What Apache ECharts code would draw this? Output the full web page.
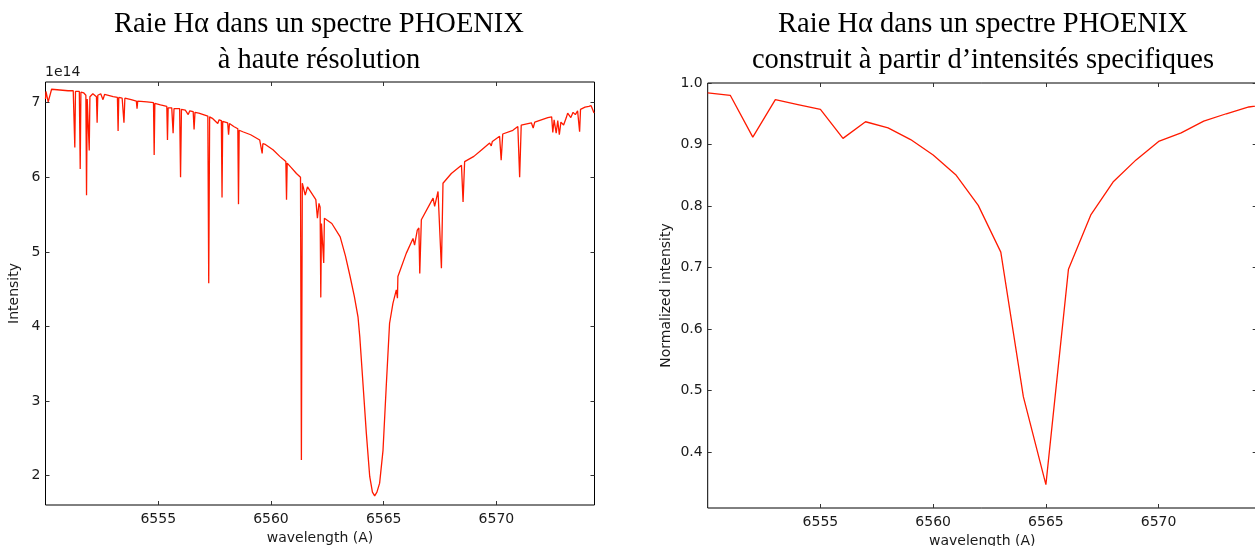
<!DOCTYPE html>
<html>
<head>
<meta charset="utf-8">
<script src="https://cdn.jsdelivr.net/npm/echarts@6/dist/echarts.min.js"></script>
<style>
  html, body { margin: 0; padding: 0; background: #fff; }
  #chart { width: 1255px; height: 546px; }
</style>
</head>
<body>
<div id="chart"></div>
<script>
// high resolution spectrum: [wavelength (A), intensity / 1e14]
const hiresPoints = [
  [6550.00, 7.05], [6550.02, 7.15], [6550.12, 7.01], [6550.27, 7.18], [6550.34, 7.18], [6550.64, 7.17], [6551.00, 7.16], [6551.23, 7.16],
  [6551.27, 7.15], [6551.30, 6.40], [6551.33, 7.15],
  [6551.50, 7.15], [6551.54, 6.11], [6551.57, 7.14],
  [6551.70, 7.13], [6551.79, 7.10], [6551.82, 5.76], [6551.85, 7.05],
  [6551.91, 7.06], [6551.94, 6.36], [6551.97, 7.08],
  [6552.10, 7.12], [6552.26, 7.08], [6552.29, 6.73], [6552.32, 7.10],
  [6552.45, 7.12], [6552.55, 7.04], [6552.62, 7.11],
  [6553.00, 7.08], [6553.19, 7.07], [6553.22, 6.62], [6553.25, 7.07],
  [6553.40, 7.06], [6553.48, 6.73], [6553.52, 7.06],
  [6553.80, 7.04], [6554.03, 7.02], [6554.06, 6.92], [6554.09, 7.02],
  [6554.50, 7.01], [6554.79, 7.00], [6554.82, 6.30], [6554.85, 6.99],
  [6555.10, 6.97], [6555.38, 6.95], [6555.41, 6.50], [6555.44, 6.93],
  [6555.60, 6.93], [6555.66, 6.59], [6555.70, 6.92],
  [6555.95, 6.92], [6555.99, 6.00], [6556.03, 6.91],
  [6556.20, 6.90], [6556.33, 6.84], [6556.40, 6.89],
  [6556.55, 6.88], [6556.59, 6.64], [6556.63, 6.87],
  [6556.80, 6.86], [6557.20, 6.82], [6557.24, 4.58], [6557.28, 6.81],
  [6557.40, 6.79], [6557.64, 6.72], [6557.70, 6.77],
  [6557.80, 6.76], [6557.83, 5.73], [6557.86, 6.75],
  [6558.08, 6.73], [6558.12, 6.57], [6558.16, 6.72],
  [6558.35, 6.68], [6558.53, 6.65], [6558.56, 5.64], [6558.59, 6.63],
  [6558.75, 6.61], [6559.10, 6.57], [6559.50, 6.50], [6559.58, 6.48], [6559.61, 6.32], [6559.64, 6.45],
  [6559.75, 6.44], [6560.09, 6.37], [6560.39, 6.28], [6560.66, 6.21], [6560.69, 5.70], [6560.72, 6.19],
  [6560.90, 6.13], [6561.13, 6.05], [6561.31, 6.00], [6561.35, 2.21], [6561.39, 5.92],
  [6561.43, 5.94], [6561.52, 5.76], [6561.62, 5.87], [6561.99, 5.70], [6562.06, 5.45], [6562.13, 5.65],
  [6562.18, 5.60], [6562.21, 4.39], [6562.24, 5.38], [6562.30, 5.40], [6562.34, 4.85], [6562.37, 5.45],
  [6562.41, 5.47], [6562.70, 5.38], [6563.07, 5.20], [6563.30, 4.95], [6563.51, 4.67], [6563.70, 4.40], [6563.86, 4.13], [6563.94, 3.86],
  [6564.08, 3.24], [6564.23, 2.57], [6564.38, 1.99], [6564.50, 1.78], [6564.60, 1.73], [6564.70, 1.78], [6564.82, 1.90], [6564.97, 2.34],
  [6565.12, 3.24], [6565.26, 4.04], [6565.41, 4.31], [6565.56, 4.49], [6565.61, 4.38], [6565.63, 4.67], [6566.00, 4.98], [6566.30, 5.18],
  [6566.37, 5.09], [6566.49, 5.29], [6566.56, 5.32], [6566.60, 4.71], [6566.67, 5.43], [6567.19, 5.72], [6567.26, 5.61], [6567.41, 5.81],
  [6567.49, 5.83], [6567.56, 4.78], [6567.63, 5.92], [6568.00, 6.05], [6568.45, 6.16], [6568.52, 5.67], [6568.59, 6.21], [6569.00, 6.28],
  [6569.35, 6.37], [6569.70, 6.46], [6569.77, 6.42], [6569.82, 6.48], [6570.14, 6.55], [6570.21, 6.23], [6570.28, 6.58],
  [6570.73, 6.63], [6570.95, 6.68], [6571.03, 6.00], [6571.10, 6.70],
  [6571.55, 6.73], [6571.63, 6.66], [6571.70, 6.74], [6572.28, 6.80], [6572.45, 6.81], [6572.50, 6.60], [6572.56, 6.77],
  [6572.65, 6.59], [6572.72, 6.76], [6572.79, 6.57], [6572.86, 6.74], [6572.98, 6.70], [6573.10, 6.80], [6573.16, 6.86],
  [6573.30, 6.80], [6573.40, 6.87], [6573.50, 6.84], [6573.60, 6.89], [6573.66, 6.90], [6573.69, 6.61], [6573.73, 6.91],
  [6573.93, 6.94], [6574.10, 6.95], [6574.20, 6.96], [6574.33, 6.86]
];

// spectrum built from specific intensities (1 A steps)
const lowresWavelength = [6550, 6551, 6552, 6553, 6554, 6555, 6556, 6557, 6558, 6559, 6560, 6561, 6562,
  6563, 6564, 6565, 6566, 6567, 6568, 6569, 6570, 6571, 6572, 6573, 6574, 6575];
const lowresIntensity = [0.984, 0.980, 0.912, 0.973, 0.965, 0.957, 0.910, 0.937, 0.927, 0.908, 0.883, 0.851, 0.801,
  0.725, 0.490, 0.347, 0.697, 0.786, 0.840, 0.875, 0.905, 0.919, 0.938, 0.950, 0.961, 0.966];

const xTicks = [6555, 6560, 6565, 6570];
const leftYTicks = [2, 3, 4, 5, 6, 7];
const rightYTicks = [0.4, 0.5, 0.6, 0.7, 0.8, 0.9, 1.0];

const titles = [
  'Raie H\u03b1 dans un spectre PHOENIX\n\u00e0 haute r\u00e9solution',
  'Raie H\u03b1 dans un spectre PHOENIX\nconstruit \u00e0 partir d\u2019intensit\u00e9s specifiques'
];

const X_MIN = 6550, X_MAX = 6574.35;
const SANS = 'DejaVu Sans';
const INK = '#1a1a1a';
const RED = '#ff1a00';

function xAxisFor(gridIndex, position, gap) {
  const bottom = position === 'bottom';
  return {
    gridIndex, type: 'value', position, min: X_MIN, max: X_MAX,
    name: bottom ? 'wavelength (A)' : '',
    nameLocation: 'middle', nameGap: gap,
    nameTextStyle: { fontFamily: SANS, fontSize: 14, color: INK },
    axisLine: { show: false },
    splitLine: { show: false },
    axisTick: { show: true, inside: true, length: 4, customValues: xTicks, lineStyle: { color: '#333' } },
    axisLabel: { show: bottom, customValues: xTicks, margin: 7, fontFamily: SANS, fontSize: 14, color: INK,
      formatter: (v) => String(v) },
  };
}

function yAxisFor(gridIndex, position, min, max, ticks, name, gap, fmt) {
  const left = position === 'left';
  return {
    gridIndex, type: 'value', position, min, max,
    name: left ? name : '',
    nameLocation: 'middle', nameGap: gap,
    nameTextStyle: { fontFamily: SANS, fontSize: 14, color: INK },
    axisLine: { show: false },
    splitLine: { show: false },
    axisTick: { show: true, inside: true, length: 4, customValues: ticks, lineStyle: { color: '#333' } },
    axisLabel: { show: left, customValues: ticks, margin: 5, fontFamily: SANS, fontSize: 14, color: INK, formatter: fmt },
  };
}

const titleStyle = { fontFamily: 'Liberation Serif', fontWeight: 'normal', fontSize: 28.5, lineHeight: 36, color: '#000' };

const chart = echarts.init(document.getElementById('chart'), null, { width: 1255, height: 546 });
chart.setOption({
  animation: false,
  backgroundColor: '#fff',
  title: [
    { text: titles[0], left: 314, top: 2, textAlign: 'center', textStyle: titleStyle },
    { text: titles[1], left: 978, top: 2, textAlign: 'center', textStyle: titleStyle },
  ],
  graphic: [
    { type: 'text', left: 45, top: 65, style: { text: '1e14', font: '14px "DejaVu Sans"', fill: INK } },
  ],
  grid: [
    { left: 45.5, top: 82, width: 549, height: 423, outerBoundsMode: 'none', containLabel: false,
      show: true, borderColor: '#000', borderWidth: 1 },
    { left: 707.7, top: 83, width: 549, height: 425, outerBoundsMode: 'none', containLabel: false,
      show: true, borderColor: '#000', borderWidth: 1 },
  ],
  xAxis: [
    xAxisFor(0, 'bottom', 25), xAxisFor(0, 'top', 25),
    xAxisFor(1, 'bottom', 23), xAxisFor(1, 'top', 23),
  ],
  yAxis: [
    yAxisFor(0, 'left', 1.607, 7.277, leftYTicks, 'Intensity', 24, (v) => String(v)),
    yAxisFor(0, 'right', 1.607, 7.277, leftYTicks, '', 0),
    yAxisFor(1, 'left', 0.309, 1.0, rightYTicks, 'Normalized intensity', 34, (v) => v.toFixed(1)),
    yAxisFor(1, 'right', 0.309, 1.0, rightYTicks, '', 0),
  ],
  series: [
    {
      type: 'line', xAxisIndex: 0, yAxisIndex: 0,
      data: hiresPoints,
      symbol: 'none', clip: true,
      lineStyle: { color: RED, width: 1.3 },
    },
    {
      type: 'line', xAxisIndex: 2, yAxisIndex: 2,
      data: lowresWavelength.map((w, i) => [w, lowresIntensity[i]]),
      symbol: 'none', clip: true,
      lineStyle: { color: RED, width: 1.3 },
    },
  ],
});
</script>
</body>
</html>
